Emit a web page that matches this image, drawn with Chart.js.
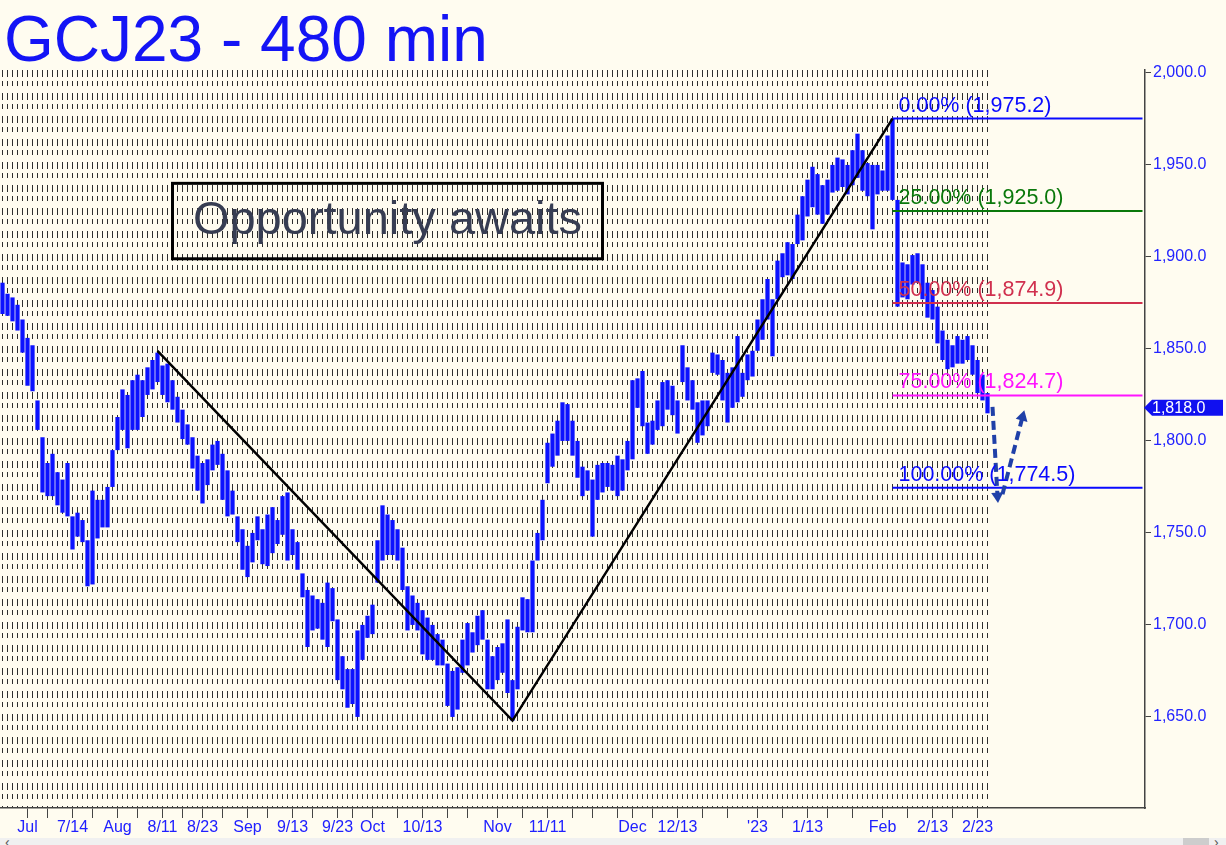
<!DOCTYPE html>
<html>
<head>
<meta charset="utf-8">
<title>GCJ23 - 480 min</title>
<script src="https://cdn.jsdelivr.net/npm/chart.js@4.4.0/dist/chart.umd.min.js"></script>
<style>
body { margin: 0; background: #fffcf0; font-family: 'Liberation Sans', Arial, sans-serif; }
#wrap { position: relative; width: 1226px; height: 838px; }
#titulo { position: absolute; left: 4px; top: 7px; font-size: 64px; line-height: 64px; color: #1414f5; white-space: nowrap; }
#barra { position: relative; width: 1226px; height: 7px; background: #f0f0f0; overflow: hidden; }
#barra .seta { position: absolute; top: -4px; font-size: 14px; color: #555; }
#barra .cursor { position: absolute; left: 1183px; top: 0; width: 26px; height: 7px; background: #cdcdcd; }
</style>
</head>
<body>
<div id="wrap">
    <canvas id="grafico"></canvas>
    <div id="titulo">GCJ23 - 480 min</div>
</div>
<div id="barra"><span class="seta" style="left:5px">&lsaquo;</span><div class="cursor"></div><span class="seta" style="left:1214px">&rsaquo;</span></div>

<script>
// 480-min bars, one slot = one bar group (high / low)
var highs = [1886,1880,1878,1874,1866,1856,1852,1822,1802,1788,
    1793,1783,1779,1788,1759,1761,1757,1746,1773,1768,
    1768,1775,1795,1813,1828,1825,1833,1836,1833,1840,
    1844,1848,1841,1842,1833,1824,1817,1809,1802,1792,
    1788,1790,1798,1800,1793,1784,1773,1759,1752,1743,
    1750,1759,1752,1760,1764,1757,1770,1772,1752,1745,
    1728,1719,1716,1714,1712,1723,1720,1703,1683,1676,
    1676,1697,1700,1705,1711,1746,1765,1760,1757,1752,
    1742,1721,1716,1712,1708,1704,1700,1695,1692,1679,
    1675,1677,1692,1701,1696,1705,1708,1692,1683,1688,
    1690,1703,1670,1699,1715,1714,1735,1750,1768,1799,
    1804,1811,1821,1820,1811,1800,1786,1784,1779,1787,
    1788,1788,1787,1792,1790,1800,1833,1834,1838,1810,
    1811,1822,1832,1833,1830,1822,1852,1840,1833,1821,
    1822,1822,1848,1847,1844,1837,1840,1857,1837,1847,
    1849,1866,1877,1888,1877,1898,1902,1908,1907,1923,
    1933,1942,1949,1945,1939,1942,1950,1954,1953,1950,
    1958,1967,1958,1951,1950,1950,1947,1966,1975.2,1931,
    1897,1896,1901,1902,1896,1886,1882,1873,1860,1855,
    1852,1857,1855,1857,1852,1844,1836,1826];

var lows = [1869,1868,1865,1860,1848,1830,1827,1806,1772,1770,
    1770,1765,1761,1759,1741,1748,1745,1721,1722,1747,
    1753,1753,1775,1795,1806,1796,1806,1806,1813,1825,
    1828,1832,1825,1821,1817,1810,1801,1798,1785,1773,
    1766,1776,1784,1787,1768,1759,1760,1745,1730,1726,
    1734,1746,1733,1732,1739,1744,1749,1735,1738,1730,
    1715,1688,1697,1698,1692,1688,1702,1670,1665,1655,
    1657,1650,1681,1693,1695,1723,1735,1738,1738,1735,
    1719,1697,1700,1697,1684,1681,1681,1678,1678,1656,
    1650,1654,1674,1678,1685,1689,1692,1665,1665,1670,
    1674,1663,1648,1665,1697,1696,1696,1735,1746,1777,
    1786,1792,1800,1800,1792,1780,1770,1773,1748,1768,
    1772,1775,1773,1770,1773,1784,1790,1818,1808,1793,
    1798,1806,1808,1817,1814,1804,1832,1822,1817,1799,
    1803,1808,1837,1836,1822,1810,1818,1821,1824,1833,
    1835,1849,1855,1866,1846,1877,1889,1890,1888,1907,
    1909,1922,1927,1923,1918,1923,1935,1936,1938,1934,
    1939,1943,1936,1933,1915,1934,1936,1936,1931,1873,
    1878,1877,1885,1886,1877,1867,1866,1853,1844,1839,
    1840,1842,1842,1844,1836,1826,1822,1815];

var lastPrice = 1818.0;
var totalSlots = 229;   // bars + empty room on the right

// x axis: labels and the slot where each one sits
var tickText = ['Jul','7/14','Aug','8/11','8/23','Sep','9/13','9/23','Oct','10/13','Nov','11/11','Dec','12/13',"'23",'1/13','Feb','2/13','2/23'];
var tickSlot = [5,14,23,32,40,49,58,67,74,84,99,109,126,135,151,161,176,186,195];
// weekly tick marks under the axis
var weekSlots = [5,9,14,18,23,27,32,36,40,44,49,53,58,62,67,70,74,79,84,89,93,99,104,109,114,118,123,126,130,135,140,145,151,156,161,165,170,176,181,186,190,195];

var yTicks = [1650,1700,1750,1800,1850,1900,1950,2000];

// swing pivots (slot, price)
var pivots = [[31,1849],[102,1648],[178,1975.2]];

// fibonacci retracement
var fibPct = ['0.00%','25.00%','50.00%','75.00%','100.00%'];
var fibLevels = [1975.2,1925.0,1874.9,1824.7,1774.5];
var fibColors = ['#0a0aff','#0a780a','#d0304e','#ff14ff','#0a0aff'];
var fibFrom = 178;
var fibTo = 228;

// projected path (down then up)
var pathDown = [[198,1818.5],[199,1770]];
var pathUp = [[200,1771],[204,1813]];

var note = 'Opportunity awaits';
var noteSlots = [34,120];
var notePrices = [1940,1899];

var slots = [];
for (var i = 0; i < totalSlots; i++) slots.push(String(i));

var tickMap = {};
tickSlot.forEach(function (s, k) { tickMap[s] = tickText[k]; });

function pontos(lista) {
    return lista.map(function (p) { return {x: String(p[0]), y: p[1]}; });
}

function fmt(v) {
    return v.toLocaleString('en-US', {minimumFractionDigits: 1, maximumFractionDigits: 1});
}

var barras = lows.map(function (l, i) { return [l, highs[i]]; });

var datasets = [{
    type: 'bar',
    data: barras,
    backgroundColor: '#0c12ff',
    borderWidth: 0,
    barPercentage: 1,
    categoryPercentage: 0.85,
    order: 5
}, {
    type: 'line',
    data: pontos(pivots),
    borderColor: '#000000',
    borderWidth: 2.5,
    pointRadius: 0,
    order: 1
}];

fibLevels.forEach(function (lv, k) {
    datasets.push({
        type: 'line',
        data: pontos([[fibFrom, lv], [fibTo, lv]]),
        borderColor: fibColors[k],
        borderWidth: 2,
        pointRadius: 0,
        order: 2
    });
});

function seta(lista, angulo) {
    return {
        type: 'line',
        data: pontos(lista),
        borderColor: '#2040a8',
        backgroundColor: '#2040a8',
        borderWidth: 4,
        borderDash: [9, 5],
        pointStyle: 'triangle',
        pointRotation: angulo,
        pointRadius: function (ctx) { return ctx.dataIndex === lista.length - 1 ? 7 : 0; },
        pointBorderWidth: 0,
        order: 0
    };
}
datasets.push(seta(pathDown, 176));
datasets.push(seta(pathUp, 15));

var extras = {
    id: 'extras',
    afterDatasetsDraw: function (chart) {
        var ctx = chart.ctx, x = chart.scales.x, y = chart.scales.y;
        ctx.save();
        // fib labels
        ctx.font = '21.5px "Liberation Sans"';
        ctx.textAlign = 'left';
        ctx.textBaseline = 'alphabetic';
        fibLevels.forEach(function (lv, k) {
            ctx.fillStyle = fibColors[k];
            ctx.fillText(fibPct[k] + ' (' + fmt(lv) + ')', x.getPixelForValue(fibFrom) + 6, y.getPixelForValue(lv) - 7);
        });
        // note box
        var x1 = x.getPixelForValue(noteSlots[0]), x2 = x.getPixelForValue(noteSlots[1]);
        var y1 = y.getPixelForValue(notePrices[0]), y2 = y.getPixelForValue(notePrices[1]);
        ctx.lineWidth = 3;
        ctx.strokeStyle = '#000';
        ctx.strokeRect(x1, y1, x2 - x1, y2 - y1);
        ctx.font = '47px "Liberation Sans"';
        ctx.fillStyle = '#373d52';
        ctx.textAlign = 'center';
        ctx.textBaseline = 'middle';
        ctx.fillText(note, (x1 + x2) / 2, (y1 + y2) / 2);
        ctx.restore();
    },
    afterDraw: function (chart) {
        var ctx = chart.ctx, y = chart.scales.y, area = chart.chartArea;
        var py = y.getPixelForValue(lastPrice);
        ctx.save();
        ctx.fillStyle = '#1010f0';
        ctx.beginPath();
        ctx.moveTo(area.right - 1, py);
        ctx.lineTo(area.right + 7, py - 8);
        ctx.lineTo(area.right + 78, py - 8);
        ctx.lineTo(area.right + 78, py + 8);
        ctx.lineTo(area.right + 7, py + 8);
        ctx.closePath();
        ctx.fill();
        ctx.fillStyle = '#ffffff';
        ctx.font = '16px "Liberation Sans"';
        ctx.textBaseline = 'middle';
        ctx.fillText(fmt(lastPrice), area.right + 7, py + 1);
        ctx.restore();
    }
};

new Chart(document.getElementById('grafico'), {
    type: 'bar',
    data: { labels: slots, datasets: datasets },
    options: {
        responsive: true,
        maintainAspectRatio: false,
        animation: false,
        events: [],
        layout: { autoPadding: false, padding: { top: 70, left: 0, right: 0, bottom: 0 } },
        plugins: { legend: { display: false }, tooltip: { enabled: false } },
        scales: {
            x: {
                type: 'category',
                offset: true,
                afterFit: function (s) { s.height = 30; },
                grid: {
                    offset: false,
                    drawOnChartArea: true,
                    color: function (ctx) { return ctx.index < highs.length ? '#2e2e2e' : 'rgba(0,0,0,0)'; },
                    lineWidth: 1,
                    drawTicks: true,
                    tickLength: 10,
                    tickWidth: 1,
                    tickColor: function (ctx) { return weekSlots.indexOf(ctx.index) >= 0 ? '#444' : 'rgba(0,0,0,0)'; }
                },
                border: { display: true, color: '#444', width: 1.5, dash: [7, 4, 5, 7] },
                ticks: {
                    autoSkip: false,
                    maxRotation: 0,
                    minRotation: 0,
                    padding: 0,
                    color: '#2020ff',
                    font: { family: 'Liberation Sans', size: 16 },
                    callback: function (v, i) { return tickMap[i] || ''; }
                }
            },
            y: {
                position: 'right',
                min: 1600.5,
                max: 2001.6,
                afterFit: function (s) { s.width = 81; },
                afterBuildTicks: function (s) { s.ticks = yTicks.map(function (v) { return {value: v}; }); },
                grid: { drawOnChartArea: false, drawTicks: true, tickLength: 6, tickColor: '#444' },
                border: { display: true, color: '#444', width: 1.5 },
                ticks: {
                    padding: 2,
                    color: '#2323ff',
                    font: { family: 'Liberation Sans', size: 16 },
                    callback: function (v) { return fmt(v); }
                }
            }
        }
    },
    plugins: [extras]
});
</script>
</body>
</html>
